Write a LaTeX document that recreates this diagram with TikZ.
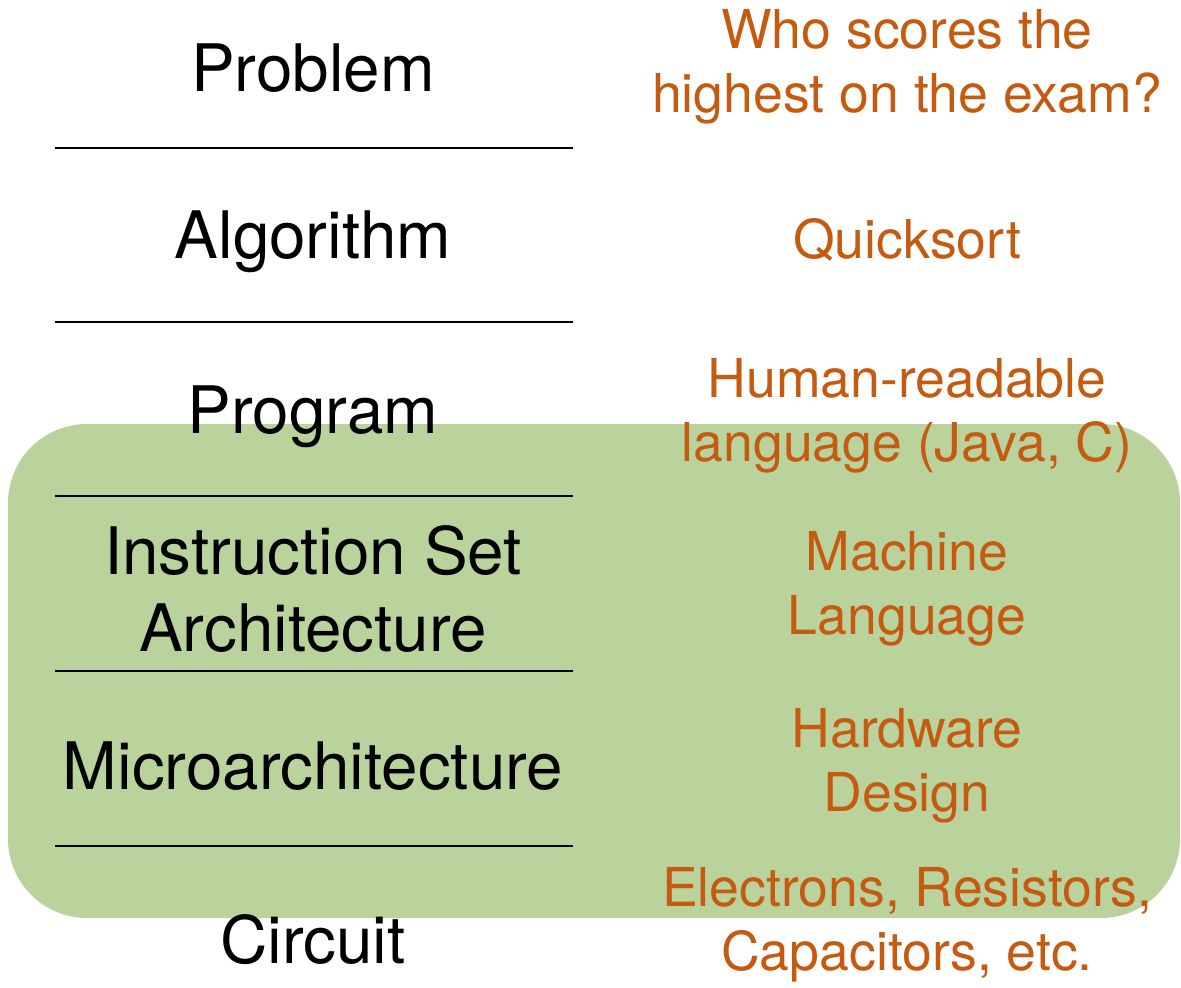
\documentclass[tikz,border=0pt]{standalone}
\usepackage{fontspec}
\setmainfont{TeX Gyre Heros}
\definecolor{boxgreen}{RGB}{186,210,156}
\definecolor{exorange}{RGB}{197,90,17}
\begin{document}
\begin{tikzpicture}[x=0.02cm,y=-0.02cm]
\tikzstyle{level}=[inner sep=0pt,align=center,font=\fontsize{37.3}{43.9}\selectfont]
\tikzstyle{example}=[inner sep=0pt,align=center,text=exorange,font=\fontsize{30.5}{36.2}\selectfont]
\useasboundingbox (0,0) rectangle (1181,988);
\fill [boxgreen,rounded corners=45] (8,424) rectangle (1180,918);
\foreach \y in {148,322,496,671,846}
  \draw [black,line width=1.1pt] (55,\y) -- (573,\y);
\node [level] (problem) at (313,68) {Problem};
\node [level] (algorithm) at (313,242) {Algorithm};
\node [level] (program) at (313,417) {Program};
\node [level] (isa) at (313,589) {Instruction Set\\Architecture};
\node [level] (uarch) at (313,766) {Microarchitecture};
\node [level] (circuit) at (313,940) {Circuit};
\node [example] (exam) at (907,67) {Who scores the\\highest on the exam?};
\node [example] (qsort) at (907,240) {Quicksort};
\node [example] (lang) at (907,416) {Human-readable\\language (Java, C)};
\node [example] (mlang) at (907,589) {Machine\\Language};
\node [example] (hwdesign) at (907,766) {Hardware\\Design};
\node [example] (parts) at (907,925) {Electrons, Resistors,\\Capacitors, etc.};
\end{tikzpicture}
\end{document}
